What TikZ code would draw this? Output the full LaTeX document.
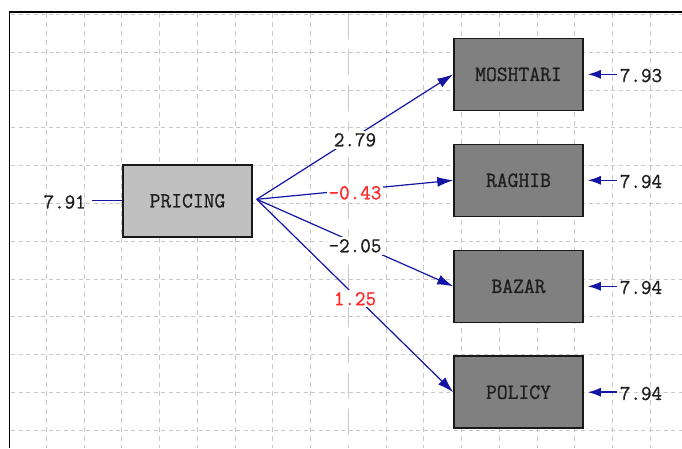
\documentclass[tikz,border=0pt]{standalone}
\usepackage{fontspec}
\usepackage{graphicx}
\setmonofont{Latin Modern Mono}[BoldFont={Latin Modern Mono},BoldFeatures={FakeBold=0.9}]
\usetikzlibrary{arrows.meta}
\definecolor{pathblue}{RGB}{20,20,165}
\definecolor{gridgray}{RGB}{200,200,200}
\definecolor{lightbox}{RGB}{192,192,192}
\definecolor{darkbox}{RGB}{128,128,128}
\definecolor{txtdark}{RGB}{30,30,30}
\definecolor{valred}{RGB}{255,40,40}
\newcommand{\tallmono}[1]{\scalebox{1}[1.03]{#1}}
\tikzset{
  boxfont/.style={font=\ttfamily\bfseries\fontsize{21}{23}\selectfont},
  numfont/.style={font=\ttfamily\bfseries\fontsize{20.5}{23}\selectfont},
  varbox/.style={draw=black!90, line width=1.5pt, minimum width=129pt, minimum height=72pt,
    inner sep=0pt, boxfont, text=txtdark},
  latentbox/.style={varbox, fill=lightbox},
  obsbox/.style={varbox, fill=darkbox},
  coef/.style={fill=white, inner xsep=1.5pt, inner ysep=2pt, numfont, text=txtdark},
  redcoef/.style={coef, text=valred},
  errlab/.style={inner xsep=3pt, inner ysep=0pt, numfont, text=txtdark},
  conn/.style={draw=pathblue, line width=1.2pt},
  arr/.style={conn, -{Latex[length=16pt,width=10pt]}},
  errarr/.style={conn, line width=1.5pt, -{Latex[length=13pt,width=9pt]}, shorten >=4pt},
  hgrid/.style={draw=gridgray, line width=1pt, dash pattern=on 4pt off 3.5pt},
  vgrid/.style={draw=gridgray, line width=1pt, dash pattern=on 5pt off 4pt},
  vgridlong/.style={draw=gridgray, line width=1pt, dash pattern=on 26pt off 10pt},
}
\begin{document}
\begin{tikzpicture}[x=1pt,y=-1pt]
\useasboundingbox[fill=white] (0,0) rectangle (682,448);
% grid
\foreach \k in {0,...,11} {
  \draw[hgrid] (11,{14.5+37.8*\k}) -- (682,{14.5+37.8*\k});
}
\foreach \k in {0,...,16} {
  \ifnum\k=8
    \draw[vgridlong] ({46.4+37.75*\k},13) -- ({46.4+37.75*\k},448);
  \else
    \draw[vgrid] ({46.4+37.75*\k},13) -- ({46.4+37.75*\k},448);
  \fi
}
% frame
\draw[line width=1.5pt, black] (9.5,448) -- (9.5,12) -- (682,12);

% boxes
\node[latentbox] (pricing) at (187.5,200.8) {\tallmono{PRICING}};
\node[obsbox] (moshtari) at (518.5,74.3) {\tallmono{MOSHTARI}};
\node[obsbox] (raghib) at (518.5,180.3) {\tallmono{RAGHIB}};
\node[obsbox] (bazar) at (518.5,286.3) {\tallmono{BAZAR}};
\node[obsbox] (policy) at (518.5,392.2) {\tallmono{POLICY}};

% error values
\node[errlab, inner xsep=6pt] (e0) at (64.7,202) {\tallmono{7.91}};
\node[errlab] (e1) at (641,75.5) {\tallmono{7.93}};
\node[errlab] (e2) at (641,181.5) {\tallmono{7.94}};
\node[errlab] (e3) at (641,287.5) {\tallmono{7.94}};
\node[errlab] (e4) at (641,393.5) {\tallmono{7.94}};

\draw[conn] (pricing.west -| e0.east) -- (pricing.west);
\draw[errarr] (moshtari.east -| e1.west) -- (moshtari.east);
\draw[errarr] (raghib.east -| e2.west) -- (raghib.east);
\draw[errarr] (bazar.east -| e3.west) -- (bazar.east);
\draw[errarr] (policy.east -| e4.west) -- (policy.east);

% paths
\coordinate (src) at ([xshift=4pt,yshift=1.5pt]pricing.east);
\draw[arr] (src) -- node[coef, yshift=-3pt] (c1) {\tallmono{2.79}} (moshtari.west);
\draw[arr] (src) -- node[redcoef, yshift=-3pt] (c2) {\tallmono{-0.43}} (raghib.west);
\draw[arr] (src) -- node[coef, yshift=-3pt] (c3) {\tallmono{-2.05}} (bazar.west);
\draw[arr] (src) -- node[redcoef, yshift=-3pt] (c4) {\tallmono{1.25}} (policy.west);
\end{tikzpicture}
\end{document}
